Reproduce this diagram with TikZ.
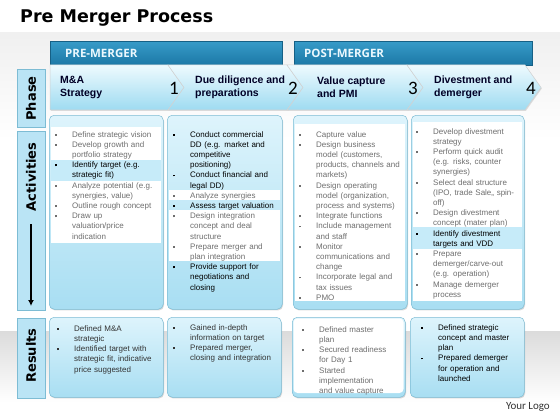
\documentclass[tikz,border=0pt]{standalone}
\usepackage{fontspec}
\setmainfont{Liberation Sans}
\newfontfamily\tabfont{DejaVu Sans}
\newfontfamily\hdrfont{Open Sans}
\newfontfamily\numfont{Carlito}
\usetikzlibrary{shadows,arrows.meta}

\definecolor{hdrtop}{RGB}{55,155,200}
\definecolor{hdrbot}{RGB}{28,120,166}
\definecolor{chtop}{RGB}{238,250,254}
\definecolor{chbot}{RGB}{158,219,241}
\definecolor{boxtop}{RGB}{222,244,252}
\definecolor{boxbot}{RGB}{168,222,242}
\definecolor{boxline}{RGB}{125,188,212}
\definecolor{hilite}{RGB}{198,235,249}
\definecolor{txtgray}{RGB}{110,110,110}
\definecolor{tabfill}{RGB}{186,228,245}

% one bullet item, grey unless told otherwise
\newcommand{\itm}[2][txtgray]{\par\hangindent=17pt\hangafter=1\noindent
  \textcolor{#1}{\let\\\newline\makebox[17pt][l]{\rule[1.5pt]{1.8pt}{1.8pt}}#2}\par}

\begin{document}
\begin{tikzpicture}[x=1pt, y=-1pt,
  hdrbar/.style={top color=hdrtop, bottom color=hdrbot, draw=hdrbot!80!black, line width=0.4pt,
    anchor=north west, minimum height=24pt, align=left, text=white!92!cyan,
    font=\hdrfont\bfseries\fontsize{11.5}{13}\selectfont},
  chev/.style={top color=chtop, bottom color=chbot, draw=gray!35, line width=0.5pt,
    drop shadow={shadow xshift=0.8pt, shadow yshift=-1pt, opacity=0.25}},
  chevtxt/.style={anchor=west, align=left, inner sep=0pt, text=black!85!blue,
    font=\bfseries\fontsize{10.5}{13}\selectfont},
  chevnum/.style={inner sep=0pt, text=black, font=\numfont\fontsize{19}{20}\selectfont},
  tab/.style={anchor=north west, fill=tabfill, draw=boxline, line width=0.5pt,
    drop shadow={shadow xshift=0.8pt, shadow yshift=-1pt, opacity=0.3}},
  tablbl/.style={rotate=90, inner sep=0pt, font=\tabfont\bfseries\fontsize{13}{15}\selectfont},
  cbox/.style={anchor=north west, rounded corners=5pt, top color=boxtop, bottom color=boxbot,
    draw=boxline, line width=0.5pt, inner sep=0pt,
    drop shadow={shadow xshift=0.8pt, shadow yshift=-1.2pt, opacity=0.3}},
  itemtxt/.style={anchor=base west, inner sep=0pt, text width=112pt,
    font=\fontsize{8}{10.2}\selectfont}]

\useasboundingbox (0,0) rectangle (560,420);

% fond
\shade[top color=gray!12, bottom color=white] (0,33) rectangle (560,140);
\shade[top color=gray!28, bottom color=white] (0,331) rectangle (560,402);

\node[anchor=base west, inner sep=0pt, font=\tabfont\bfseries\fontsize{17.5}{20}\selectfont]
  (title) at (20,22.5) {Pre Merger Process};

% bandeaux
\node[hdrbar, text width=202pt, inner xsep=15pt] (pre) at (50,41) {PRE-MERGER};
\node[hdrbar, text width=218pt, inner xsep=10pt] (post) at (294,41) {POST-MERGER};

% chevrons
\newcommand{\mkchev}[7]{%
  \shadedraw[chev] (#1,65) -- (#2,65) -- (#2+16,87.5) -- (#2,110) -- (#1,110) -- (#1+#3,87.5) -- cycle;
  \node[chevtxt] (#4) at (#1+#5,87) {#6};
  \node[chevnum] (#4num) at (#2+6,88) {#7};
}
\mkchev{50}{168}{0}{phase1}{10}{M\&A\\Strategy}{1}
\mkchev{168}{287}{16}{phase2}{27}{Due diligence and\\preparations}{2}
\mkchev{287}{407}{16}{phase3}{30}{Value capture\\and PMI}{3}
\mkchev{407}{525}{16}{phase4}{27}{Divestment and\\demerger}{4}

% onglets
\node[tab, minimum width=28pt, minimum height=58pt] (phasetab) at (17,69) {};
\node[tablbl] (phaselbl) at (31,98.5) {Phase};
\node[tab, minimum width=28pt, minimum height=179pt] (acttab) at (17,131) {};
\node[tablbl] (actlbl) at (31,177) {Activities};
\node[tab, minimum width=28pt, minimum height=80pt] (restab) at (17,318) {};
\node[tablbl] (reslbl) at (31,355.5) {Results};
\coordinate (arrtop) at (31,224);
\coordinate (arrbot) at (31,306);
\draw[line width=1.3pt, -{Latex[length=6pt, width=6pt]}] (arrtop) -- (arrbot);

% activites
\node[cbox, minimum width=114pt, minimum height=194pt] (act1) at (49,115) {};
\fill[white] (51,127) rectangle (161,243);
\fill[hilite] (51,160) rectangle (161,181);
\node[itemtxt] (act1txt) at (55,127) {%
  \itm{Define strategic vision}
  \itm{Develop growth and\\portfolio strategy}
  \itm[black]{Identify target (e.g.\\strategic fit)}
  \itm{Analyze potential (e.g.\\synergies, value)}
  \itm{Outline rough concept}
  \itm{Draw up\\valuation/price\\indication}};

\node[cbox, minimum width=115pt, minimum height=194pt] (act2) at (167,115) {};
\fill[white] (169,190) rectangle (280,200);
\fill[white] (169,210) rectangle (280,261);
\node[itemtxt] (act2txt) at (173,127) {%
  \itm[black]{Conduct commercial\\DD (e.g. market and\\competitive\\positioning)}
  \itm[black]{Conduct financial and\\legal DD)}
  \itm{Analyze synergies}
  \itm[black]{Assess target valuation}
  \itm{Design integration\\concept and deal\\structure}
  \itm{Prepare merger and\\plan integration}
  \itm[black]{Provide support for\\negotiations and\\closing}};

\node[cbox, minimum width=114pt, minimum height=194pt] (act3) at (293,115) {};
\fill[white] (295,124) rectangle (405,301);
\node[itemtxt] (act3txt) at (299,127) {%
  \itm{Capture value}
  \itm{Design business\\model (customers,\\products, channels and\\markets)}
  \itm{Design operating\\model (organization,\\process and systems)}
  \itm{Integrate functions}
  \itm{Include management\\and staff}
  \itm{Monitor\\communications and\\change}
  \itm{Incorporate legal and\\tax issues}
  \itm{PMO}};

\node[cbox, minimum width=113pt, minimum height=194pt] (act4) at (411,115) {};
\fill[white] (413,122) rectangle (522,301);
\fill[hilite] (413,227) rectangle (522,249);
\node[itemtxt] (act4txt) at (416,124) {%
  \itm{Develop divestment\\strategy}
  \itm{Perform quick audit\\(e.g. risks, counter\\synergies)}
  \itm{Select deal structure\\(IPO, trade Sale,, spin-\\off)}
  \itm{Design divestment\\concept (mater plan)}
  \itm[black]{Identify divestment\\targets and VDD}
  \itm{Prepare\\demerger/carve-out\\(e.g. operation)}
  \itm{Manage demerger\\process}};

% resultats
\node[cbox, minimum width=114pt, minimum height=80pt] (res1) at (49,317) {};
\node[itemtxt] (res1txt) at (57,321) {%
  \itm[black!80]{Defined M\&A\\strategic}
  \itm[black!80]{Identified target with\\strategic fit, indicative\\price suggested}};

\node[cbox, minimum width=114pt, minimum height=80pt] (res2) at (167,317) {};
\node[itemtxt] (res2txt) at (173,320) {%
  \itm[black!80]{Gained in-depth\\information on target}
  \itm[black!80]{Prepared merger,\\closing and integration}};

\node[cbox, minimum width=113pt, minimum height=80pt] (res3) at (292,317) {};
\fill[white, rounded corners=4pt] (293.5,318.5) rectangle (403.5,393);
\node[itemtxt] (res3txt) at (302,322) {%
  \itm{Defined master\\plan}
  \itm{Secured readiness\\for Day 1}
  \itm{Started\\implementation\\and value capture}};

\node[cbox, minimum width=114pt, minimum height=80pt] (res4) at (410,317) {};
\node[itemtxt] (res4txt) at (421,320) {%
  \itm[black]{Defined strategic\\concept and master\\plan}
  \itm[black]{Prepared demerger\\for operation and\\launched}};

\node[anchor=base east, inner sep=0pt, text=black!80, font=\numfont\fontsize{11}{13}\selectfont]
  (logo) at (550,409) {Your Logo};

\end{tikzpicture}
\end{document}
